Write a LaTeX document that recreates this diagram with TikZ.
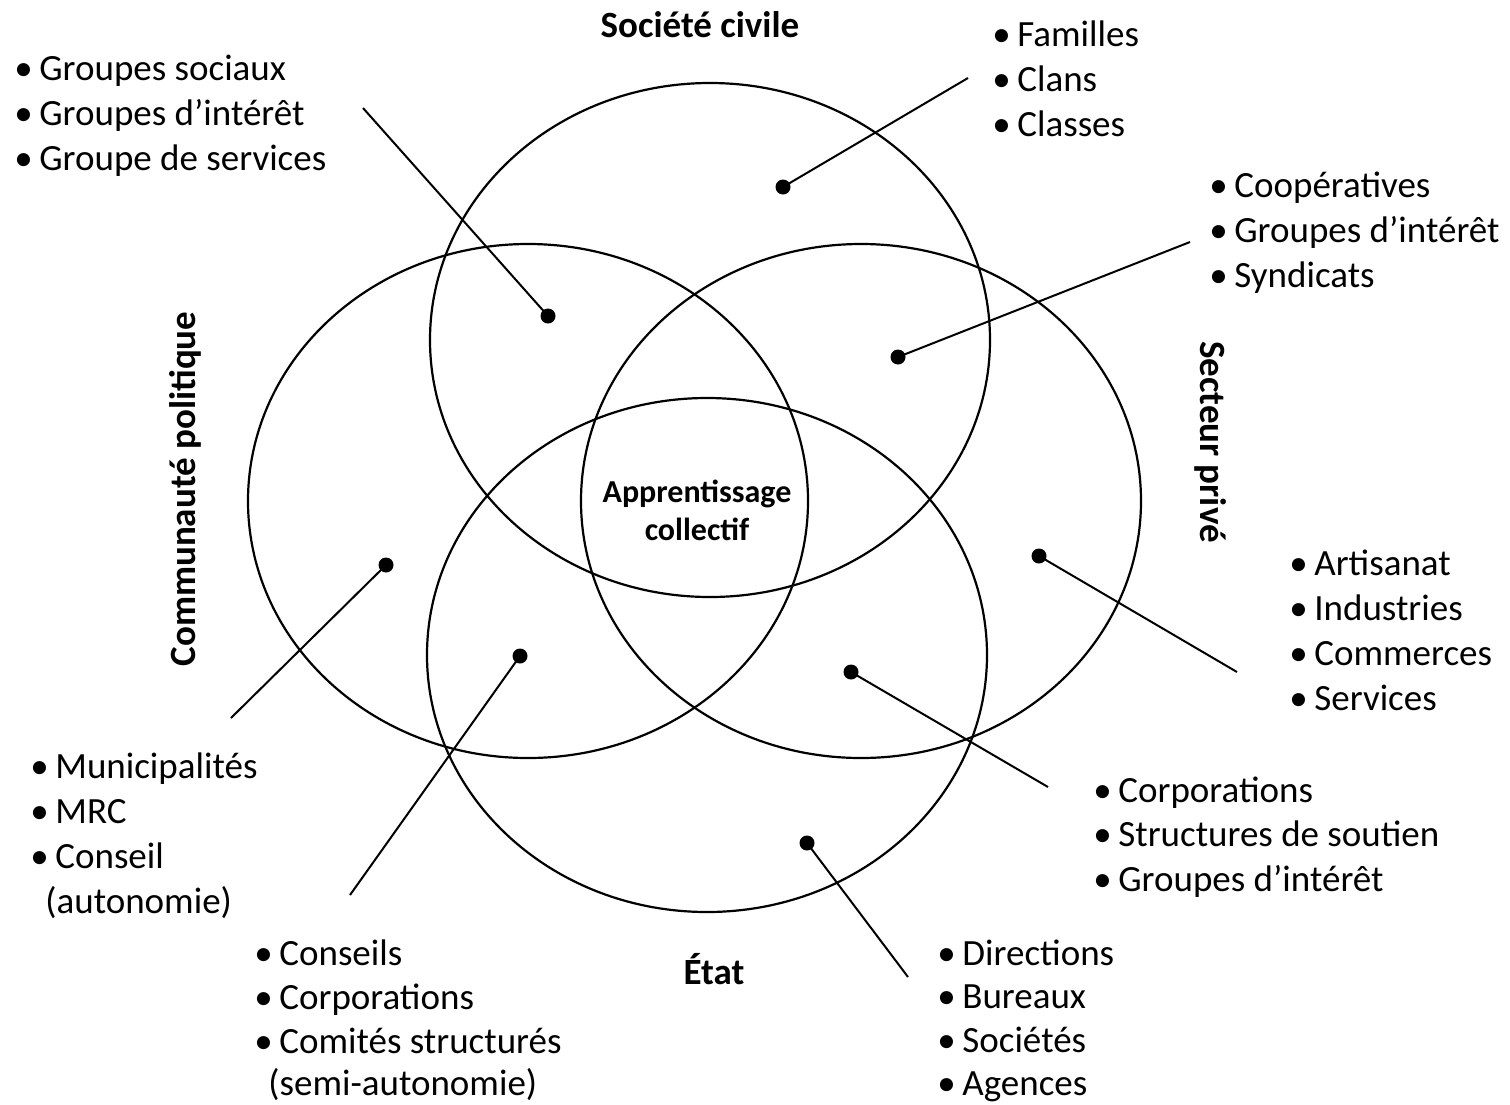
\documentclass[tikz,border=0pt]{standalone}
\usepackage{fontspec}
\setmainfont{Carlito}
\newcommand\bulmark{\llap{\makebox[12.5pt][l]{•}}}
\begin{document}
\begin{tikzpicture}[x=0.5pt,y=-0.5pt,
  venn/.style={line width=1.1pt},
  lead/.style={line width=1pt},
  dot/.style={circle,fill=black,inner sep=0pt,minimum size=7.5pt},
  item/.style={anchor=base west,inner sep=0pt,font=\fontsize{18.5}{22}\selectfont},
  title/.style={anchor=base,inner sep=0pt,font=\bfseries\fontsize{18.5}{22}\selectfont},
  center/.style={align=center,inner sep=0pt,font=\bfseries\fontsize{16}{19}\selectfont},
]
\useasboundingbox (0,0) rectangle (1510,1104);
% circles
\draw[venn] (710,340) ellipse [x radius=140pt, y radius=128.5pt];
\draw[venn] (528,501) ellipse [x radius=140pt, y radius=128.5pt];
\draw[venn] (861,501) ellipse [x radius=140pt, y radius=128.5pt];
\draw[venn] (707,655) ellipse [x radius=140pt, y radius=128.5pt];
% titles
\node[title] (tsc) at (700,37) {Société civile};
\node[title] (tet) at (714,984) {État};
\node[title,rotate=90] (tcp) at (195,489) {Communauté politique};
\node[title,rotate=-90] (tsp) at (1200,442) {Secteur privé};
\node[center] (ac) at (697,510) {Apprentissage\\collectif};
% dots
\node[dot] (d1) at (548,316) {};
\node[dot] (d2) at (783,187) {};
\node[dot] (d3) at (898,357) {};
\node[dot] (d4) at (1039,556) {};
\node[dot] (d5) at (851,672) {};
\node[dot] (d6) at (807,843) {};
\node[dot] (d7) at (520,656) {};
\node[dot] (d8) at (386,565) {};
% leader ends
\coordinate (e1) at (363,108);
\coordinate (e2) at (968,78);
\coordinate (e3) at (1190,242);
\coordinate (e4) at (1237,672);
\coordinate (e5) at (1048,787);
\coordinate (e6) at (908,977);
\coordinate (e7) at (350,895);
\coordinate (e8) at (231,718);
\foreach \i in {1,...,8} \draw[lead] (d\i.center) -- (e\i);
% lists
\foreach \t [count=\i from 0] in {Groupes sociaux,Groupes d’intérêt,Groupe de services}
  \node[item] (la\i) at (39,80+45*\i) {\bulmark\t};
\foreach \t [count=\i from 0] in {Familles,Clans,Classes}
  \node[item] (lb\i) at (1017,46+45*\i) {\bulmark\t};
\foreach \t [count=\i from 0] in {Coopératives,Groupes d’intérêt,Syndicats}
  \node[item] (lc\i) at (1234,197+45*\i) {\bulmark\t};
\foreach \t [count=\i from 0] in {Artisanat,Industries,Commerces,Services}
  \node[item] (ld\i) at (1314,575+45*\i) {\bulmark\t};
\foreach \t [count=\i from 0] in {Municipalités,MRC,Conseil}
  \node[item] (le\i) at (55,778+45*\i) {\bulmark\t};
\node[item] (le3) at (45,913) {(autonomie)};
\foreach \t [count=\i from 0] in {Corporations,Structures de soutien,Groupes d’intérêt}
  \node[item] (lf\i) at (1118,802+44.5*\i) {\bulmark\t};
\foreach \t [count=\i from 0] in {Conseils,Corporations,Comités structurés}
  \node[item] (lg\i) at (279,965+44*\i) {\bulmark\t};
\node[item] (lg3) at (268,1095) {(semi-autonomie)};
\foreach \t [count=\i from 0] in {Directions,Bureaux,Sociétés,Agences}
  \node[item] (lh\i) at (962,965+43.5*\i) {\bulmark\t};
\end{tikzpicture}
\end{document}
